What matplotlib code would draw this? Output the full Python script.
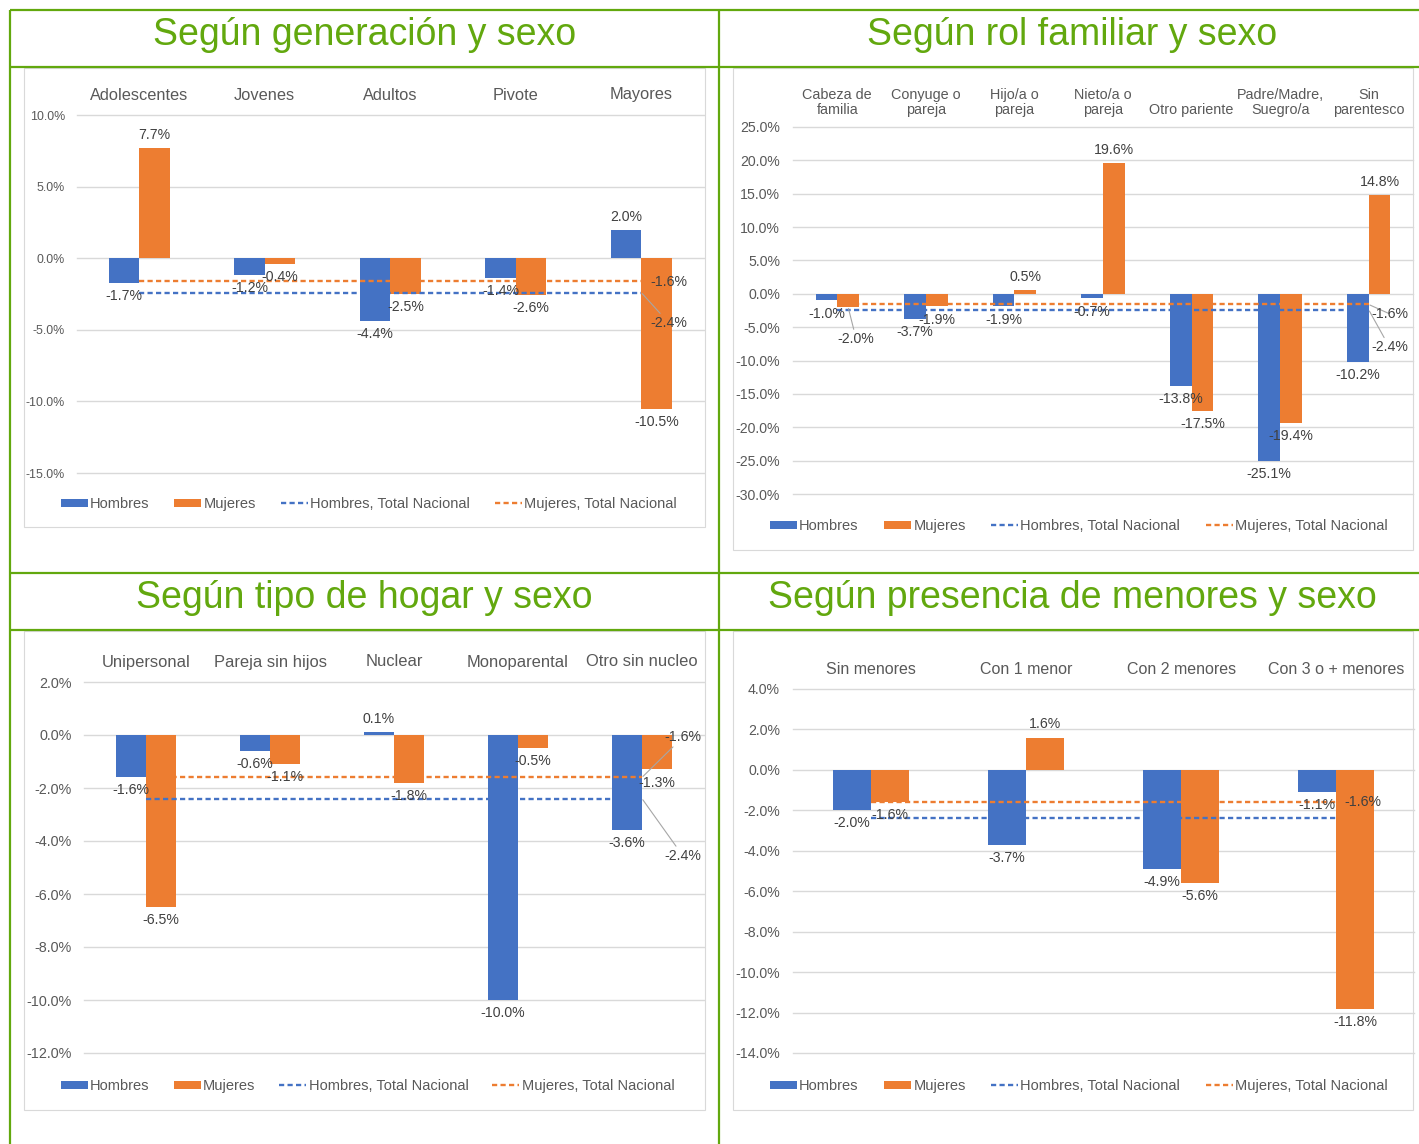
import matplotlib
matplotlib.use("Agg")
import numpy as np
import matplotlib.pyplot as plt
from matplotlib.lines import Line2D
from matplotlib.patches import Rectangle, Patch
from matplotlib.ticker import FuncFormatter

W, H, DPI = 1419, 1144, 100
plt.rcParams["font.family"] = ["Liberation Sans", "DejaVu Sans"]

BLUE = "#4472C4"
ORANGE = "#ED7D31"
GREEN = "#62A80E"
GRID = "#D9D9D9"
TXT = "#595959"
LBL = "#404040"

# ---------------- data ----------------
titles = ["Según generación y sexo", "Según rol familiar y sexo",
          "Según tipo de hogar y sexo", "Según presencia de menores y sexo"]

gen_categories = ["Adolescentes", "Jovenes", "Adultos", "Pivote", "Mayores"]
gen_hombres = [-1.7, -1.2, -4.4, -1.4, 2.0]
gen_mujeres = [7.7, -0.4, -2.5, -2.6, -10.5]
gen_nac_hombres = [-2.4, -2.4, -2.4, -2.4, -2.4]
gen_nac_mujeres = [-1.6, -1.6, -1.6, -1.6, -1.6]
gen_yticks = [-15, -10, -5, 0, 5, 10]

rol_categories = ["Cabeza de\nfamilia", "Conyuge o\npareja", "Hijo/a o\npareja",
                  "Nieto/a o\npareja", "Otro pariente", "Padre/Madre,\nSuegro/a",
                  "Sin\nparentesco"]
rol_hombres = [-1.0, -3.7, -1.9, -0.7, -13.8, -25.1, -10.2]
rol_mujeres = [-2.0, -1.9, 0.5, 19.6, -17.5, -19.4, 14.8]
rol_nac_hombres = [-2.4, -2.4, -2.4, -2.4, -2.4, -2.4, -2.4]
rol_nac_mujeres = [-1.6, -1.6, -1.6, -1.6, -1.6, -1.6, -1.6]
rol_yticks = [-30, -25, -20, -15, -10, -5, 0, 5, 10, 15, 20, 25]

hogar_categories = ["Unipersonal", "Pareja sin hijos", "Nuclear", "Monoparental",
                    "Otro sin nucleo"]
hogar_hombres = [-1.6, -0.6, 0.1, -10.0, -3.6]
hogar_mujeres = [-6.5, -1.1, -1.8, -0.5, -1.3]
hogar_nac_hombres = [-2.4, -2.4, -2.4, -2.4, -2.4]
hogar_nac_mujeres = [-1.6, -1.6, -1.6, -1.6, -1.6]
hogar_yticks = [-12, -10, -8, -6, -4, -2, 0, 2]

men_categories = ["Sin menores", "Con 1 menor", "Con 2 menores", "Con 3 o + menores"]
men_hombres = [-2.0, -3.7, -4.9, -1.1]
men_mujeres = [-1.6, 1.6, -5.6, -11.8]
men_nac_hombres = [-2.4, -2.4, -2.4, -2.4]
men_nac_mujeres = [-1.6, -1.6, -1.6, -1.6]
men_yticks = [-14, -12, -10, -8, -6, -4, -2, 0, 2, 4]

legend_labels = ["Hombres", "Mujeres", "Hombres, Total Nacional", "Mujeres, Total Nacional"]

# ---------------- figure ----------------
fig = plt.figure(figsize=(W / DPI, H / DPI), dpi=DPI)
fig.patch.set_facecolor("white")


def frect(x0, y0, x1, y1):
    return [x0 / W, 1 - y1 / H, (x1 - x0) / W, (y1 - y0) / H]


def fig_line(x0, y0, x1, y1, **kw):
    fig.add_artist(Line2D([x0 / W, x1 / W], [1 - y0 / H, 1 - y1 / H],
                          transform=fig.transFigure, **kw))


# green frame
for (a, b, c, d) in [(10, 10, 1419, 10), (10, 67, 1419, 67), (10, 573, 1419, 573),
                     (10, 630, 1419, 630), (10, 10, 10, 1144), (719, 10, 719, 1144)]:
    fig_line(a, b, c, d, color=GREEN, lw=1.6, solid_capstyle="butt")

title_pos = [(364.5, 45), (1072, 45), (364.5, 608), (1072, 608)]
for t, (tx, ty) in zip(titles, title_pos):
    fig.text(tx / W, 1 - ty / H, t, ha="center", va="baseline", fontsize=27.0, color=GREEN)

DASH = (0, (2.2, 1.4))
BW = 0.245


def draw_panel(spec):
    bx = spec["box"]
    fig.add_artist(Rectangle((bx[0] / W, 1 - bx[3] / H), (bx[2] - bx[0]) / W,
                             (bx[3] - bx[1]) / H, transform=fig.transFigure,
                             fill=False, ec=GRID, lw=0.8))
    ax = fig.add_axes(frect(*spec["axes"]))
    cats = spec["cats"]
    n = len(cats)
    x = np.arange(n)
    series = [spec["hom"], spec["muj"]]
    ax.bar(x - BW / 2, series[0], BW, color=BLUE, zorder=2)
    ax.bar(x + BW / 2, series[1], BW, color=ORANGE, zorder=2)
    lines = [spec["nac_h"], spec["nac_m"]]
    ax.plot(x, lines[0], color=BLUE, lw=1.7, ls=DASH, zorder=3)
    ax.plot(x, lines[1], color=ORANGE, lw=1.7, ls=DASH, zorder=3)
    yt = spec["yticks"]
    ax.set_xlim(-0.5, n - 0.5)
    ax.set_ylim(yt[0], yt[-1])
    ax.set_yticks(yt)
    ax.yaxis.set_major_formatter(FuncFormatter(lambda v, p: f"{v:.1f}%"))
    ax.set_xticks([])
    for s in ax.spines.values():
        s.set_visible(False)
    ax.grid(axis="y", color=GRID, lw=1.0, zorder=0)
    for gl in ax.get_ygridlines():
        gl.set_clip_on(False)
    ax.set_axisbelow(True)
    ax.tick_params(axis="y", length=0, pad=spec["tick_pad"], labelsize=spec["tick_fs"],
                   labelcolor=TXT)
    for i, c in enumerate(cats):
        ax.annotate(c, xy=(i, yt[-1]), xytext=(0, spec["cat_dy"]), textcoords="offset points",
                    ha="center", va=spec["cat_va"], fontsize=spec["cat_fs"], color=TXT,
                    linespacing=1.1, annotation_clip=False)
    # bar labels
    ov = spec.get("overrides", {})
    for si, (vals, sgn) in enumerate(zip(series, (-1, 1))):
        for i, v in enumerate(vals):
            xp = x[i] + sgn * BW / 2
            dx, dy, leader = ov.get((si, i), (0, 9.4 if v >= 0 else -9.4, False))
            kw = {}
            if leader:
                kw["arrowprops"] = dict(arrowstyle="-", color="#A6A6A6", lw=0.8,
                                        shrinkA=0, shrinkB=1)
            ax.annotate(f"{v:.1f}%", xy=(xp, v), xytext=(dx, dy), textcoords="offset points",
                        ha="center", va="center", fontsize=spec["lab_fs"], color=LBL,
                        annotation_clip=False, zorder=5, **kw)
    for (si, dx, dy, leader) in spec["line_labels"]:
        v = lines[si][-1]
        kw = {}
        if leader:
            kw["arrowprops"] = dict(arrowstyle="-", color="#A6A6A6", lw=0.8,
                                    shrinkA=0, shrinkB=1)
        ax.annotate(f"{v:.1f}%", xy=(x[-1], v), xytext=(dx, dy), textcoords="offset points",
                    ha="center", va="center", fontsize=spec["lab_fs"], color=LBL,
                    annotation_clip=False, zorder=5, **kw)
    handles = [Patch(facecolor=BLUE), Patch(facecolor=ORANGE),
               Line2D([], [], color=BLUE, lw=1.7, ls=DASH),
               Line2D([], [], color=ORANGE, lw=1.7, ls=DASH)]
    lx, ly = spec["leg"]
    leg = ax.legend(handles, legend_labels, ncol=4, loc="center left",
                    bbox_to_anchor=(lx / W, 1 - ly / H), bbox_transform=fig.transFigure,
                    frameon=False, fontsize=spec["leg_fs"], handlelength=1.85,
                    handleheight=0.5, handletextpad=0.15, columnspacing=spec["colsp"],
                    borderpad=0, borderaxespad=0)
    for t in leg.get_texts():
        t.set_color(TXT)
    return ax


panels = [
    dict(box=(24, 68, 705, 527), axes=(76.5, 115, 704, 473), cats=gen_categories,
         hom=gen_hombres, muj=gen_mujeres, nac_h=gen_nac_hombres, nac_m=gen_nac_mujeres,
         yticks=gen_yticks, tick_fs=8.9, tick_pad=8.3, cat_fs=11.8, cat_dy=14.4,
         cat_va="center", lab_fs=10.2, leg=(61, 504), leg_fs=10.5, colsp=1.7,
         line_labels=[(1, 20, -0.7, False), (0, 20, -22, True)]),
    dict(box=(733, 68, 1413, 550), axes=(793, 127, 1413, 494), cats=rol_categories,
         hom=rol_hombres, muj=rol_mujeres, nac_h=rol_nac_hombres, nac_m=rol_nac_mujeres,
         yticks=rol_yticks, tick_fs=10.2, tick_pad=9.4, cat_fs=10.4, cat_dy=6.9,
         cat_va="bottom", lab_fs=10.2, leg=(770, 526), leg_fs=10.5, colsp=1.75,
         overrides={(1, 0): (5.8, -23, True)},
         line_labels=[(1, 15, -6.7, True), (0, 15, -27, True)]),
    dict(box=(24, 631, 705, 1110), axes=(84, 682, 704, 1053), cats=hogar_categories,
         hom=hogar_hombres, muj=hogar_mujeres, nac_h=hogar_nac_hombres,
         nac_m=hogar_nac_mujeres, yticks=hogar_yticks, tick_fs=10.4, tick_pad=8.6,
         cat_fs=11.9, cat_dy=14.4, cat_va="center", lab_fs=10.2, leg=(61, 1086),
         leg_fs=10.5, colsp=1.65,
         line_labels=[(1, 29.5, 29, True), (0, 29.5, -41.3, True)]),
    dict(box=(733, 631, 1413, 1110), axes=(793, 689, 1414, 1053), cats=men_categories,
         hom=men_hombres, muj=men_mujeres, nac_h=men_nac_hombres, nac_m=men_nac_mujeres,
         yticks=men_yticks, tick_fs=10.2, tick_pad=9.4, cat_fs=11.5, cat_dy=13.7,
         cat_va="center", lab_fs=10.2, leg=(770, 1086), leg_fs=10.5, colsp=1.75,
         line_labels=[(1, 19.4, 0, False)]),
]

for p in panels:
    draw_panel(p)

fig.savefig("out.png", dpi=DPI, facecolor="white")
